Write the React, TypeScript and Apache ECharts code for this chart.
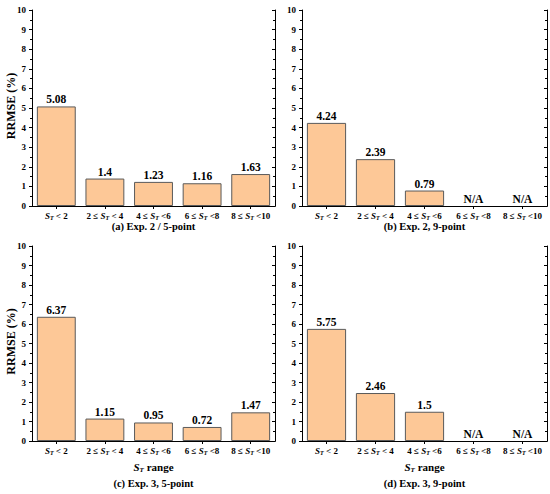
import React, { useEffect, useRef } from "react";
import * as echarts from "echarts";

const categories = ["S_T < 2", "2 ≤ S_T < 4", "4 ≤ S_T <6", "6 ≤ S_T <8", "8 ≤ S_T <10"];
const exp2Point5 = [5.08, 1.4, 1.23, 1.16, 1.63];
const exp2Point9 = [4.24, 2.39, 0.79, null, null];
const exp3Point5 = [6.37, 1.15, 0.95, 0.72, 1.47];
const exp3Point9 = [5.75, 2.46, 1.5, null, null];
const captions = ["(a) Exp. 2 / 5-point", "(b) Exp. 2, 9-point", "(c) Exp. 3, 5-point", "(d) Exp. 3, 9-point"];
const yTitle = "RRMSE (%)";
const xTitle = "S_T range";

const FONT = "'Liberation Serif', 'Times New Roman', serif";
const BAR = "#FDC897";
const EDGE = "#5a5a5a";

const panels = [
  { data: exp2Point5, left: 32, top: 10, width: 243, height: 196, yName: true, xName: false, capY: 226.5 },
  { data: exp2Point9, left: 302, top: 10, width: 245, height: 196, yName: false, xName: false, capY: 226.5 },
  { data: exp3Point5, left: 32, top: 246, width: 243, height: 195, yName: true, xName: true, capY: 483 },
  { data: exp3Point9, left: 302, top: 246, width: 245, height: 195, yName: false, xName: true, capY: 483 },
];

const richBase = {
  n: { fontFamily: FONT, fontWeight: "bold", fontSize: 9, color: "#000", lineHeight: 10 },
  s: { fontFamily: FONT, fontWeight: "bold", fontStyle: "italic", fontSize: 9, color: "#000", lineHeight: 10 },
  t: { fontFamily: FONT, fontWeight: "bold", fontStyle: "italic", fontSize: 6, color: "#000", lineHeight: 5, verticalAlign: "bottom" },
};

function catFormat(c: string) {
  const [pre, post] = c.split("S_T");
  return (pre ? `{n|${pre}}` : "") + "{s|S}{t|T}" + `{n|${post}}`;
}

export default function App() {
  const ref = useRef<HTMLDivElement>(null);
  useEffect(() => {
    if (!ref.current) return;
    const chart = echarts.init(ref.current, undefined, { renderer: "svg" });
    const grid: any[] = [];
    const xAxis: any[] = [];
    const yAxis: any[] = [];
    const series: any[] = [];
    const graphic: any[] = [];
    const axisLine = { show: true, lineStyle: { color: "#000", width: 1 } };
    panels.forEach((p, i) => {
      grid.push({ left: p.left, top: p.top, width: p.width, height: p.height });
      xAxis.push({
        type: "category",
        gridIndex: i,
        data: categories,
        position: "bottom",
        axisLine,
        axisTick: { show: true, alignWithLabel: true, length: 3, lineStyle: { color: "#000" } },
        axisLabel: { margin: 4.5, interval: 0, hideOverlap: false, formatter: catFormat, rich: richBase },
      });
      xAxis.push({
        type: "category",
        gridIndex: i,
        data: categories,
        position: "top",
        axisLine,
        axisTick: { show: true, inside: true, alignWithLabel: true, length: 3, lineStyle: { color: "#000" } },
        axisLabel: { show: false },
      });
      yAxis.push({
        type: "value",
        gridIndex: i,
        min: 0,
        max: 10,
        interval: 1,
        position: "left",
        axisLine,
        splitLine: { show: false },
        axisTick: { show: true, length: 3, lineStyle: { color: "#000" } },
        minorTick: { show: true, splitNumber: 2, length: 2, lineStyle: { color: "#000" } },
        axisLabel: { margin: 6, fontFamily: FONT, fontWeight: "bold", fontSize: 9, color: "#000" },
      });
      yAxis.push({
        type: "value",
        gridIndex: i,
        min: 0,
        max: 10,
        interval: 1,
        position: "right",
        axisLine,
        splitLine: { show: false },
        axisTick: { show: true, inside: true, length: 3, lineStyle: { color: "#000" } },
        minorTick: { show: true, splitNumber: 2, length: 2, lineStyle: { color: "#000" } },
        axisLabel: { show: false },
      });
      series.push({
        type: "bar",
        xAxisIndex: 2 * i,
        yAxisIndex: 2 * i,
        barCategoryGap: "20%",
        itemStyle: { color: BAR, borderColor: EDGE, borderWidth: 1 },
        label: {
          show: true,
          position: "top",
          distance: 1,
          fontFamily: FONT,
          fontWeight: "bold",
          fontSize: 11.5,
          color: "#000",
          formatter: (d: any) => (d.data && d.data.na ? "N/A" : String(d.value)),
        },
        data: p.data.map((v) =>
          v === null
            ? { value: 0, na: true, itemStyle: { color: "rgba(0,0,0,0)", borderWidth: 0 } }
            : { value: v }
        ),
      });
      const cx = p.left + p.width / 2;
      graphic.push({
        type: "text",
        x: cx,
        y: p.capY,
        style: {
          text: captions[i],
          x: 0,
          y: 0,
          align: "center",
          verticalAlign: "middle",
          fontFamily: FONT,
          fontWeight: "bold",
          fontSize: 10.5,
          fill: "#000",
        },
      });
      if (p.yName) {
        graphic.push({
          type: "text",
          x: 10.5,
          y: p.top + p.height / 2 - 2,
          rotation: Math.PI / 2,
          style: {
            text: yTitle,
            x: 0,
            y: 0,
            align: "center",
            verticalAlign: "middle",
            fontFamily: FONT,
            fontWeight: "bold",
            fontSize: 12,
            fill: "#000",
          },
        });
      }
      if (p.xName) {
        const [pre, post] = xTitle.split("S_T");
        graphic.push({
          type: "text",
          x: cx,
          y: 467,
          style: {
            text: (pre ? `{n|${pre}}` : "") + "{s|S}{t|T}" + `{n|${post}}`,
            x: 0,
            y: 0,
            align: "center",
            verticalAlign: "middle",
            rich: {
              n: { fontFamily: FONT, fontWeight: "bold", fontSize: 11, fill: "#000", lineHeight: 12 },
              s: { fontFamily: FONT, fontWeight: "bold", fontStyle: "italic", fontSize: 11, fill: "#000", lineHeight: 12 },
              t: { fontFamily: FONT, fontWeight: "bold", fontStyle: "italic", fontSize: 7, fill: "#000", lineHeight: 6, verticalAlign: "bottom" },
            },
          },
        });
      }
    });
    chart.setOption({ animation: false, grid, xAxis, yAxis, series, graphic });
    return () => chart.dispose();
  }, []);
  return (
    <div
      ref={ref}
      style={{ position: "fixed", left: 0, top: 0, width: 550, height: 494, background: "#fff" }}
    />
  );
}
